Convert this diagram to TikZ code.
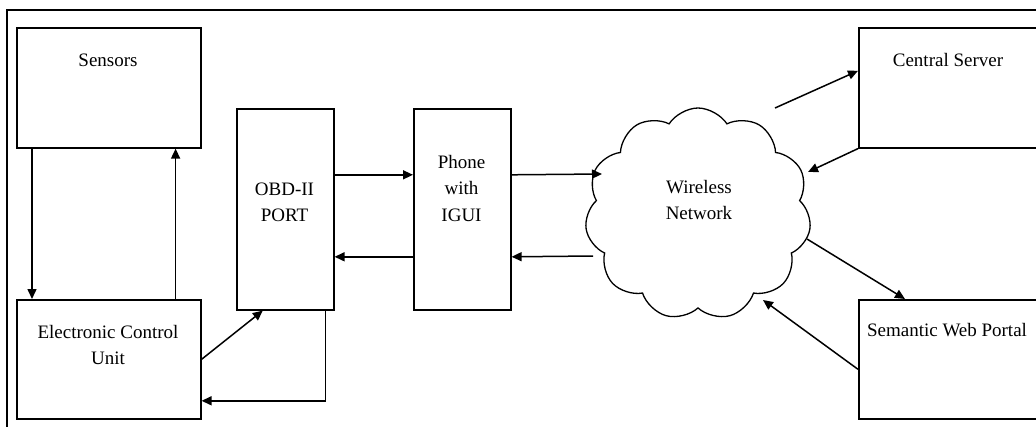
\documentclass[tikz,border=0pt]{standalone}
\usepackage{fontspec}
\setmainfont{Liberation Serif}
\usetikzlibrary{arrows.meta,shapes.symbols,calc}
\begin{document}
\begin{tikzpicture}[x=1pt,y=-1pt,
  box/.style={draw,line width=1.6pt,inner sep=0pt,anchor=north west},
  lbl/.style={align=center,font=\fontsize{19}{26.5}\selectfont,inner sep=0pt},
  arr/.style={line width=1.5pt,-{Triangle[length=10pt,width=9pt]}},
  netcloud/.style={draw,line width=1.3pt,cloud,cloud puffs=11,cloud puff arc=115,aspect=1.05,
    minimum width=226pt,minimum height=212pt,inner sep=0pt}]
\useasboundingbox (0,0) rectangle (1036,426);
\clip (0,0) rectangle (1036,426);
% outer frame
\draw[line width=1.6pt] (7,430) -- (7,10) -- (1040,10);
% blocks
\node[box,minimum width=184pt,minimum height=120pt] (sensors) at (16,27) {};
\node[box,minimum width=184pt,minimum height=119pt] (ecu) at (16,299) {};
\node[box,minimum width=97pt,minimum height=201pt] (obd) at (236,108) {};
\node[box,minimum width=97pt,minimum height=201pt] (phone) at (413,108) {};
\node[box,minimum width=185pt,minimum height=120pt] (server) at (858,27) {};
\node[box,minimum width=185pt,minimum height=119pt] (portal) at (858,299) {};
\node[netcloud] (cloud) at (698,214) {};
% texts
\node[lbl] (tsensors) at (108,60) {Sensors};
\node[lbl] (tecu) at (108,345) {Electronic Control\\Unit};
\node[lbl] (tobd) at (284.5,202.5) {OBD-II\\PORT};
\node[lbl] (tphone) at (461.5,188) {Phone\\with\\IGUI};
\node[lbl] (tcloud) at (699,200) {Wireless\\Network};
\node[lbl] (tserver) at (948,60) {Central Server};
\node[lbl] (tportal) at (947,330) {Semantic Web Portal};
% contact points on the cloud outline
\coordinate (cin) at (602,174);
\coordinate (cout) at (593,256);
\coordinate (cs1) at (775,108);
\coordinate (cs2) at (808,172);
\coordinate (cp1) at (807,239);
\coordinate (cp2) at (763,300);
% connectors
\draw[arr] ([xshift=16pt]sensors.south west) -- ([xshift=16pt]ecu.north west);
\draw[arr] ([xshift=-26pt]ecu.north east) -- ([xshift=-26pt]sensors.south east);
\draw[arr] (ecu.east) -- ([xshift=-22.5pt]obd.south);
\draw[arr] ([xshift=40pt]obd.south) |- ([yshift=-41.5pt]ecu.east);
\draw[arr] ([yshift=34.5pt]obd.east) -- ([yshift=34.5pt]phone.west);
\draw[arr] ([yshift=-47.5pt]phone.west) -- ([yshift=-47.5pt]obd.east);
\draw[arr] ([yshift=34.5pt]phone.east) -- (cin);
\draw[arr] (cout) -- ([yshift=-47.5pt]phone.east);
\draw[arr] (cs1) -- ([yshift=17pt]server.west);
\draw[arr] (server.south west) -- (cs2);
\draw[arr] (cp1) -- ([xshift=47pt]portal.north west);
\draw[arr] ([yshift=-10pt]portal.west) -- (cp2);
\end{tikzpicture}
\end{document}
